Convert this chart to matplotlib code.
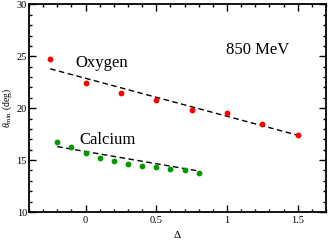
import numpy as np
import matplotlib
matplotlib.use("Agg")
import matplotlib.pyplot as plt
from matplotlib.ticker import MultipleLocator

plt.rcParams['font.family'] = ['Liberation Serif', 'DejaVu Serif']
plt.rcParams['mathtext.fontset'] = 'custom'
plt.rcParams['mathtext.rm'] = 'Liberation Serif'
plt.rcParams['mathtext.it'] = 'Liberation Serif:italic'

# Oxygen data points and fit line
ox_delta = [-0.25, 0.0, 0.25, 0.5, 0.75, 1.0, 1.25, 1.5]
ox_theta = [24.75, 22.45, 21.45, 20.8, 19.85, 19.55, 18.5, 17.45]
ox_fit_delta = [-0.25, 1.5]
ox_fit_theta = [23.8, 17.4]

# Calcium data points and fit line
ca_delta = [-0.2, -0.1, 0.0, 0.1, 0.2, 0.3, 0.4, 0.5, 0.6, 0.7, 0.8]
ca_theta = [16.7, 16.25, 15.7, 15.25, 14.9, 14.65, 14.4, 14.3, 14.15, 14.05, 13.8]
ca_fit_delta = [-0.2, 0.8]
ca_fit_theta = [16.3, 13.95]

fig = plt.figure(figsize=(3.28, 2.41), dpi=100)
ax = fig.add_axes([29/328, 1 - 212/241, 297/328, 207.5/241])

ax.plot(ox_fit_delta, ox_fit_theta, color='black', ls=(0, (4, 2.5)), lw=1.0)
ax.plot(ca_fit_delta, ca_fit_theta, color='black', ls=(0, (4, 2.5)), lw=1.0)
ax.plot(ox_delta, ox_theta, 'o', color='#ff0000', ms=4.2, mec='none')
ax.plot(ca_delta, ca_theta, 'o', color='#009900', ms=4.2, mec='none')

ax.text(0.115, 24.35, "Oxygen", fontsize=12, ha='center', va='center')
ax.text(1.22, 25.6, "850 MeV", fontsize=12, ha='center', va='center')
ax.text(0.155, 16.9, "Calcium", fontsize=12, ha='center', va='center')

ax.set_xlim(-0.4, 1.7)
ax.set_ylim(10, 30)
ax.set_xticks([0, 0.5, 1, 1.5])
ax.set_xticklabels(["0", "0.5", "1", "1.5"])
ax.set_yticks([10, 15, 20, 25, 30])
ax.xaxis.set_minor_locator(MultipleLocator(0.1))
ax.yaxis.set_minor_locator(MultipleLocator(1))
ax.tick_params(which='both', direction='in', top=True, right=True, labelsize=7.5, width=1.0)
ax.tick_params(which='major', length=5)
ax.tick_params(which='minor', length=2.5)
ax.tick_params(axis='y', pad=1.5)
ax.tick_params(axis='x', pad=3)
for s in ax.spines.values():
    s.set_linewidth(1.3)

ax.set_xlabel(r"$\Delta$", fontsize=8)
ax.set_ylabel(r"$\theta_{\rm min}$ (deg)", fontsize=7)
ax.xaxis.set_label_coords(0.5, -0.083)
ax.yaxis.set_label_coords(-0.052, 0.5)

fig.savefig("out.png", dpi=100)
